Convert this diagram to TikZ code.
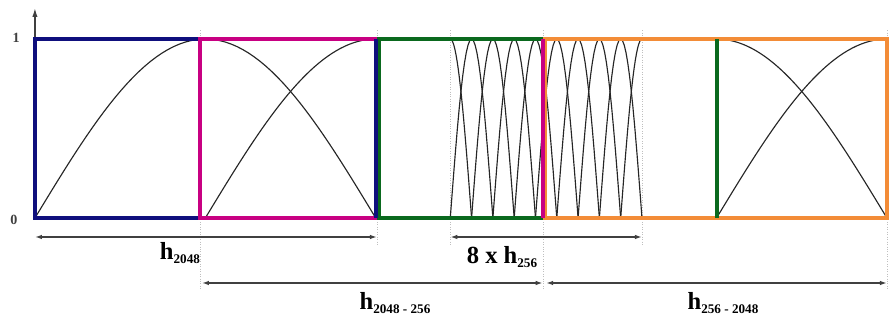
\documentclass[tikz,border=0pt]{standalone}
\usepackage{fontspec}
\setmainfont{Liberation Serif}
\usepackage{tikz}
\usetikzlibrary{arrows.meta, positioning}
\definecolor{longblue}{RGB}{15,15,125}
\definecolor{startpink}{RGB}{200,0,130}
\definecolor{shortgreen}{RGB}{10,105,30}
\definecolor{stoporange}{RGB}{243,140,55}
\tikzset{
	winbox/.style={line width=2.3pt},
	wincurve/.style={line width=0.65pt, black!85}
}
\tikzset{
	guideline/.style={densely dotted, line width=0.4pt, gray!50},
	dimarrow/.style={{Latex[length=4pt,width=2.6pt]}-{Latex[length=4pt,width=2.6pt]}, line width=0.8pt, black!75}
}
\tikzset{
	dimtext/.style={font=\fontsize{14}{16}\selectfont\bfseries},
	ticktext/.style={font=\fontsize{8}{9}\selectfont\bfseries\color{black!75}}
}
\newcommand{\hsub}[1]{h\raisebox{-2.3pt}{\fontsize{7.5}{8}\selectfont #1}}

\begin{document}
\begin{tikzpicture}[x=3.408cm, y=3.58cm]
      \useasboundingbox (-0.205,-0.575) rectangle (5.018,1.218);
      % guide lines
      \foreach \gx/\gy in {0.97/-0.402, 2.01/-0.151, 2.4375/-0.151, 2.985/-0.402, 3.5625/-0.151, 5/-0.402}
        \draw[guideline] (\gx,1.05) -- (\gx,\gy);
      % axis
      \coordinate (origin) at (0,0);
      \coordinate (ytop) at (0,1.173);
      \draw[-{Latex[length=5pt,width=3pt]}, line width=0.8pt, black!75] (origin) -- (ytop);
      \node[ticktext] (one) at (-0.111,1.006) {1};
      \node[ticktext] (zero) at (-0.123,-0.011) {0};
      % window curves
      \draw[wincurve, domain=0:2, samples=60] plot (\x,{sin(90*\x)});
      \draw[wincurve, domain=1:2, samples=40] plot (\x,{sin(90*(\x-1))});
      \draw[wincurve, domain=2.4375:2.5625, samples=20] plot (\x,{cos(720*(\x-2.4375))});
      \foreach \j in {0,...,7}
        \draw[wincurve, domain=0:0.25, samples=25] plot ({2.4375+0.125*\j+\x},{sin(720*\x)});
      \draw[wincurve, domain=3.4375:3.5625, samples=20] plot (\x,{sin(720*(\x-3.4375))});
      \draw[wincurve, domain=4:5, samples=40] plot (\x,{cos(90*(\x-4))});
      \draw[wincurve, domain=4:5, samples=40] plot (\x,{sin(90*(\x-4))});
      % window frames
      \draw[winbox, longblue] (0,0) rectangle (2,1);
      \draw[winbox, startpink] (0.97,0) rectangle (2.98,1);
      \draw[winbox, shortgreen] (2.02,0) rectangle (4.0,1);
      \draw[winbox, stoporange] (2.995,0) rectangle (5,1);
      \draw[winbox, longblue] (2,0) -- (2,1);
      \draw[winbox, startpink] (2.98,0) -- (2.98,1);
      \draw[winbox, shortgreen] (4.0,0) -- (4.0,1);
      % lengths
      \coordinate (long-l) at (0,-0.106);
      \coordinate (long-r) at (2.007,-0.106);
      \coordinate (short-l) at (2.4375,-0.106);
      \coordinate (short-r) at (3.5625,-0.106);
      \coordinate (start-l) at (0.98,-0.363);
      \coordinate (start-r) at (2.98,-0.363);
      \coordinate (stop-l) at (3.0,-0.363);
      \coordinate (stop-r) at (5.0,-0.363);
      \draw[dimarrow] (long-l) -- (long-r);
      \draw[dimarrow] (short-l) -- (short-r);
      \draw[dimarrow] (start-l) -- (start-r);
      \draw[dimarrow] (stop-l) -- (stop-r);
      \node[dimtext] (longlabel) at (0.851,-0.196) {\hsub{2048}};
      \node[dimtext] (shortlabel) at (2.741,-0.218) {8 x \hsub{256}};
      \node[dimtext] (startlabel) at (2.113,-0.475) {\hsub{2048 - 256}};
      \node[dimtext] (stoplabel) at (4.038,-0.475) {\hsub{256 - 2048}};
\end{tikzpicture}
\end{document}
